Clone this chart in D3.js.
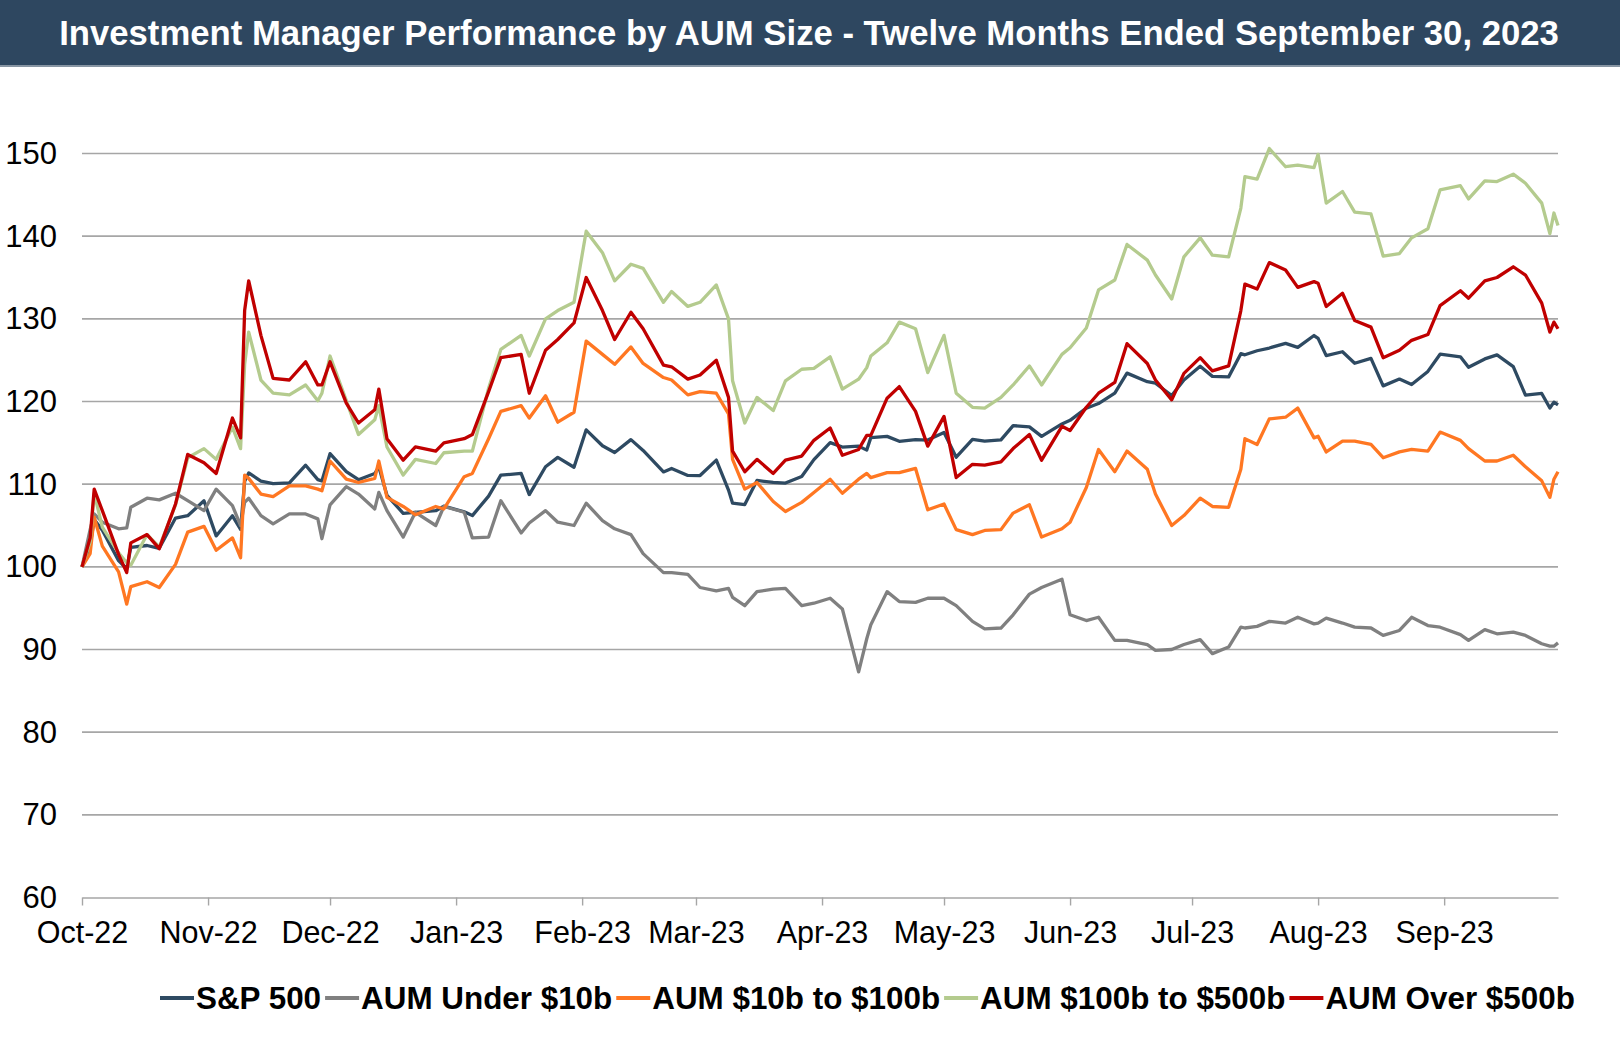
<!DOCTYPE html>
<html>
<head>
<meta charset="utf-8">
<script src="https://cdnjs.cloudflare.com/ajax/libs/d3/7.8.5/d3.min.js"></script>
<style>
  body { margin: 0; background: #fff; }
  svg { display: block; font-family: "Liberation Sans", Arial, sans-serif; }
</style>
</head>
<body>
<svg id="chart" width="1620" height="1044"></svg>
<script>
// Data (rebased to 100)
const dates = [
  "2022-10-01","2022-10-03","2022-10-04","2022-10-06","2022-10-10","2022-10-12","2022-10-13","2022-10-17","2022-10-20","2022-10-24","2022-10-27","2022-10-31",
  "2022-11-03","2022-11-07","2022-11-09","2022-11-10","2022-11-11","2022-11-14","2022-11-17","2022-11-21","2022-11-25","2022-11-28","2022-11-29",
  "2022-12-01","2022-12-05","2022-12-08","2022-12-12","2022-12-13","2022-12-15","2022-12-19","2022-12-22","2022-12-27","2022-12-29",
  "2023-01-03","2023-01-05","2023-01-09","2023-01-12","2023-01-17","2023-01-19","2023-01-23","2023-01-26","2023-01-30",
  "2023-02-02","2023-02-06","2023-02-09","2023-02-13","2023-02-16","2023-02-21","2023-02-23","2023-02-27",
  "2023-03-02","2023-03-06","2023-03-09","2023-03-10","2023-03-13","2023-03-16","2023-03-20","2023-03-23","2023-03-27","2023-03-30",
  "2023-04-03","2023-04-06","2023-04-10","2023-04-12","2023-04-13","2023-04-17","2023-04-20","2023-04-24","2023-04-27",
  "2023-05-01","2023-05-04","2023-05-08","2023-05-11","2023-05-15","2023-05-18","2023-05-22","2023-05-25","2023-05-30",
  "2023-06-01","2023-06-05","2023-06-08","2023-06-12","2023-06-15","2023-06-20","2023-06-22","2023-06-26","2023-06-29",
  "2023-07-03","2023-07-06","2023-07-10","2023-07-13","2023-07-14","2023-07-17","2023-07-20","2023-07-24","2023-07-27","2023-07-31",
  "2023-08-01","2023-08-03","2023-08-07","2023-08-10","2023-08-14","2023-08-17","2023-08-21","2023-08-24","2023-08-28","2023-08-31",
  "2023-09-05","2023-09-07","2023-09-11","2023-09-14","2023-09-18","2023-09-21","2023-09-25","2023-09-27","2023-09-28","2023-09-29"
];

const sp500 = [
  100, 102.59, 105.73, 104.43, 100.75, 99.76, 102.35, 102.58, 102.24, 105.90, 106.18, 107.99,
  103.74, 106.17, 104.54, 110.34, 111.36, 110.36, 110.07, 110.16, 112.29, 110.55, 110.38,
  113.69, 111.52, 110.54, 111.29, 112.10, 108.65, 106.47, 106.60, 106.79, 107.35,
  106.65, 106.20, 108.55, 111.09, 111.30, 108.74, 112.11, 113.24, 112.05,
  116.57, 114.65, 113.83, 115.39, 114.08, 111.48, 111.90, 111.06,
  111.04, 112.91, 109.28, 107.70, 107.53, 110.45, 110.21, 110.13, 110.93, 112.97,
  115.03, 114.49, 114.60, 114.12, 115.63, 115.78, 115.18, 115.38, 115.33,
  116.24, 113.26, 115.41, 115.20, 115.36, 117.08, 116.93, 115.78, 117.29,
  117.72, 119.19, 119.75, 121.01, 123.43, 122.40, 122.21, 120.73, 122.61,
  124.26, 123.04, 122.98, 125.78, 125.65, 126.14, 126.47, 127.03, 126.54, 127.98,
  127.64, 125.55, 126.02, 124.63, 125.21, 121.89, 122.71, 122.05, 123.64, 125.72,
  125.41, 124.14, 125.15, 125.64, 124.21, 120.76, 120.97, 119.21, 119.92, 119.59
];

const under10b = [
  100, 104.5, 106.4, 105.4, 104.6, 104.7, 107.2, 108.3, 108.1, 108.9, 108, 106.8,
  109.4, 107.4, 105, 107.8, 108.3, 106.2, 105.2, 106.4, 106.4, 105.8, 103.4,
  107.5, 109.7, 108.8, 107, 109, 106.8, 103.6, 106.6, 105, 107.3,
  106.6, 103.5, 103.6, 108, 104.1, 105.3, 106.8, 105.4, 105,
  107.7, 105.6, 104.6, 103.9, 101.6, 99.3, 99.3, 99.1,
  97.5, 97.1, 97.4, 96.3, 95.3, 97, 97.3, 97.4, 95.3, 95.6,
  96.2, 94.9, 87.3, 91.3, 93, 97, 95.8, 95.7, 96.2,
  96.2, 95.3, 93.4, 92.5, 92.6, 94.2, 96.7, 97.5, 98.5,
  94.2, 93.5, 93.9, 91.1, 91.1, 90.6, 89.9, 90, 90.6,
  91.2, 89.5, 90.3, 92.7, 92.6, 92.8, 93.4, 93.2, 93.9, 93.1,
  93.2, 93.8, 93.2, 92.7, 92.6, 91.7, 92.3, 93.9, 92.9, 92.7,
  91.8, 91.1, 92.4, 91.9, 92.1, 91.7, 90.7, 90.4, 90.4, 90.8
];

const from10to100b = [
  100, 101.6, 106, 102.5, 99.4, 95.5, 97.6, 98.2, 97.5, 100.3, 104.2, 104.9,
  102, 103.5, 101.1, 111.1, 110.7, 108.8, 108.5, 109.8, 109.8, 109.4, 109.2,
  112.8, 110.6, 110.2, 110.7, 112.8, 108.4, 107.3, 106.3, 107.3, 107,
  110.9, 111.3, 115.5, 118.8, 119.5, 118, 120.7, 117.5, 118.7,
  127.3, 125.7, 124.5, 126.6, 124.6, 122.9, 122.6, 120.8,
  121.2, 121, 118.5, 113, 109.4, 110.2, 107.9, 106.7, 107.8, 109,
  110.6, 108.9, 110.6, 111.3, 110.8, 111.4, 111.4, 111.9, 106.9,
  107.6, 104.5, 103.9, 104.4, 104.5, 106.5, 107.5, 103.6, 104.6,
  105.4, 109.6, 114.2, 111.5, 114, 111.8, 108.8, 105, 106.2,
  108.3, 107.3, 107.2, 111.8, 115.5, 114.8, 117.9, 118.1, 119.2, 115.6,
  115.8, 113.9, 115.2, 115.2, 114.8, 113.2, 113.9, 114.2, 114, 116.3,
  115.3, 114.3, 112.8, 112.8, 113.5, 112.1, 110.4, 108.4, 110.6, 111.5
];

const from100to500b = [
  100, 103, 108.9, 104.8, 101.7, 100.5, 100.2, 103.9, 102.4, 107.5, 113.2, 114.3,
  113, 116.9, 114.3, 124.5, 128.4, 122.6, 121, 120.8, 122, 120.1, 121,
  125.5, 120.1, 116, 117.8, 119.5, 114.5, 111.1, 113, 112.5, 113.8,
  114, 114, 121.6, 126.3, 128, 125.5, 130, 131, 132,
  140.6, 138, 134.6, 136.6, 136.1, 132, 133.3, 131.5,
  132, 134.1, 130, 122.5, 117.4, 120.5, 118.9, 122.5, 123.9, 124,
  125.4, 121.5, 122.7, 124.1, 125.5, 127.1, 129.6, 128.8, 123.5,
  128, 121, 119.3, 119.2, 120.5, 122, 124.3, 122, 125.7,
  126.5, 128.9, 133.5, 134.7, 139, 137.1, 135.3, 132.4, 137.5,
  139.8, 137.7, 137.5, 143.4, 147.2, 146.9, 150.6, 148.4, 148.6, 148.3,
  149.9, 144, 145.4, 142.9, 142.7, 137.6, 137.9, 139.8, 140.9, 145.6,
  146.1, 144.5, 146.7, 146.6, 147.5, 146.4, 144, 140.3, 142.8, 141.3
];

const over500b = [
  100, 103.5, 109.4, 106.8, 101.5, 99.3, 102.9, 103.9, 102.2, 107.6, 113.6, 112.6,
  111.3, 118, 115.6, 131, 134.6, 128, 122.8, 122.6, 124.8, 122, 122,
  124.8, 119.8, 117.4, 119, 121.5, 115.5, 112.9, 114.5, 114, 115,
  115.5, 116, 121.2, 125.3, 125.7, 121, 126.2, 127.5, 129.5,
  135, 131, 127.5, 130.8, 128.8, 124.4, 124.2, 122.7,
  123.2, 125, 120.5, 114, 111.5, 113, 111.3, 112.9, 113.4, 115.3,
  116.8, 113.5, 114.2, 115.9, 115.9, 120.4, 121.8, 118.8, 114.6,
  118.2, 110.8, 112.4, 112.3, 112.7, 114.3, 116, 112.9, 117,
  116.5, 119.3, 121, 122.3, 127, 124.6, 122.6, 120.2, 123.4,
  125.3, 123.7, 124.3, 131, 134.2, 133.6, 136.8, 135.9, 133.8, 134.5,
  134.3, 131.5, 133.1, 129.8, 129, 125.3, 126.2, 127.4, 128.1, 131.6,
  133.4, 132.5, 134.6, 135, 136.3, 135.3, 131.9, 128.4, 129.6, 128.8
];

const seriesNames = ["S&P 500", "AUM Under $10b", "AUM $10b to $100b", "AUM $100b to $500b", "AUM Over $500b"];
const seriesColors = ["#2E4A62", "#808080", "#FF7722", "#B4CB8E", "#C00000"];
const yTicks = [60, 70, 80, 90, 100, 110, 120, 130, 140, 150];
const monthTicks = ["2022-10-01","2022-11-01","2022-12-01","2023-01-01","2023-02-01","2023-03-01",
                    "2023-04-01","2023-05-01","2023-06-01","2023-07-01","2023-08-01","2023-09-01"];
const title = "Investment Manager Performance by AUM Size - Twelve Months Ended September 30, 2023";

const parse = d3.timeParse("%Y-%m-%d");
const svg = d3.select("#chart");

const width = 1620;
const margin = { top: 153.5, right: 62, bottom: 146.5, left: 82 };
const plotBottom = 1044 - margin.bottom;

// title bar
svg.append("rect")
  .attr("x", 0).attr("y", 0)
  .attr("width", width).attr("height", 65)
  .attr("fill", "#2E4760");
svg.append("rect")
  .attr("x", 0).attr("y", 65)
  .attr("width", width).attr("height", 2)
  .attr("fill", "#8795A3");
svg.append("text")
  .attr("x", 809)
  .attr("y", 45)
  .attr("text-anchor", "middle")
  .attr("fill", "#fff")
  .attr("font-size", "34.7px")
  .attr("font-weight", "bold")
  .text(title);

const x = d3.scaleTime()
  .domain([parse("2022-10-01"), parse("2023-09-29")])
  .range([margin.left, width - margin.right]);

const y = d3.scaleLinear()
  .domain([60, 150])
  .range([plotBottom, margin.top]);

// gridlines
svg.append("g")
  .selectAll("line")
  .data(yTicks.slice(1))
  .enter()
  .append("line")
  .attr("x1", margin.left)
  .attr("x2", width - margin.right)
  .attr("y1", d => y(d))
  .attr("y2", d => y(d))
  .attr("stroke", "#A6A6A6")
  .attr("stroke-width", 1.6);

const yAxis = svg.append("g")
  .attr("transform", `translate(${margin.left}, 0)`)
  .call(d3.axisLeft(y).tickValues(yTicks).tickSize(0).tickPadding(25));
yAxis.select(".domain").remove();
yAxis.selectAll("text")
  .attr("font-size", "31px")
  .attr("font-family", "Liberation Sans, Arial, sans-serif")
  .attr("fill", "#000");

const xAxis = svg.append("g")
  .attr("transform", `translate(0, ${plotBottom})`)
  .call(d3.axisBottom(x)
    .tickValues(monthTicks.map(parse))
    .tickFormat(d3.timeFormat("%b-%y"))
    .tickSize(8)
    .tickSizeOuter(0)
    .tickPadding(16));
xAxis.select(".domain").attr("stroke", "#A6A6A6").attr("stroke-width", 1.6);
xAxis.selectAll(".tick line").attr("stroke", "#A6A6A6").attr("stroke-width", 1.4);
xAxis.selectAll("text")
  .attr("font-size", "30.5px")
  .attr("font-family", "Liberation Sans, Arial, sans-serif")
  .attr("fill", "#000");

// series lines
const allSeries = [sp500, under10b, from10to100b, from100to500b, over500b];
const line = d3.line()
  .x((_, i) => x(parse(dates[i])))
  .y(d => y(d));

svg.append("g")
  .selectAll("path")
  .data(allSeries)
  .enter()
  .append("path")
  .attr("fill", "none")
  .attr("stroke", (_, i) => seriesColors[i])
  .attr("stroke-width", 3.3)
  .attr("stroke-linejoin", "round")
  .attr("d", line);

// legend
const legend = svg.append("g");
let lx = 160;
const ly = 998;
seriesNames.forEach((name, i) => {
  legend.append("line")
    .attr("x1", lx).attr("x2", lx + 34)
    .attr("y1", ly).attr("y2", ly)
    .attr("stroke", seriesColors[i])
    .attr("stroke-width", 4);
  const t = legend.append("text")
    .attr("x", lx + 36)
    .attr("y", ly)
    .attr("dy", "0.36em")
    .attr("font-size", "31.4px")
    .attr("font-weight", "bold")
    .attr("fill", "#000")
    .text(name);
  lx += 36 + t.node().getComputedTextLength() + 4;
});
</script>
</body>
</html>
